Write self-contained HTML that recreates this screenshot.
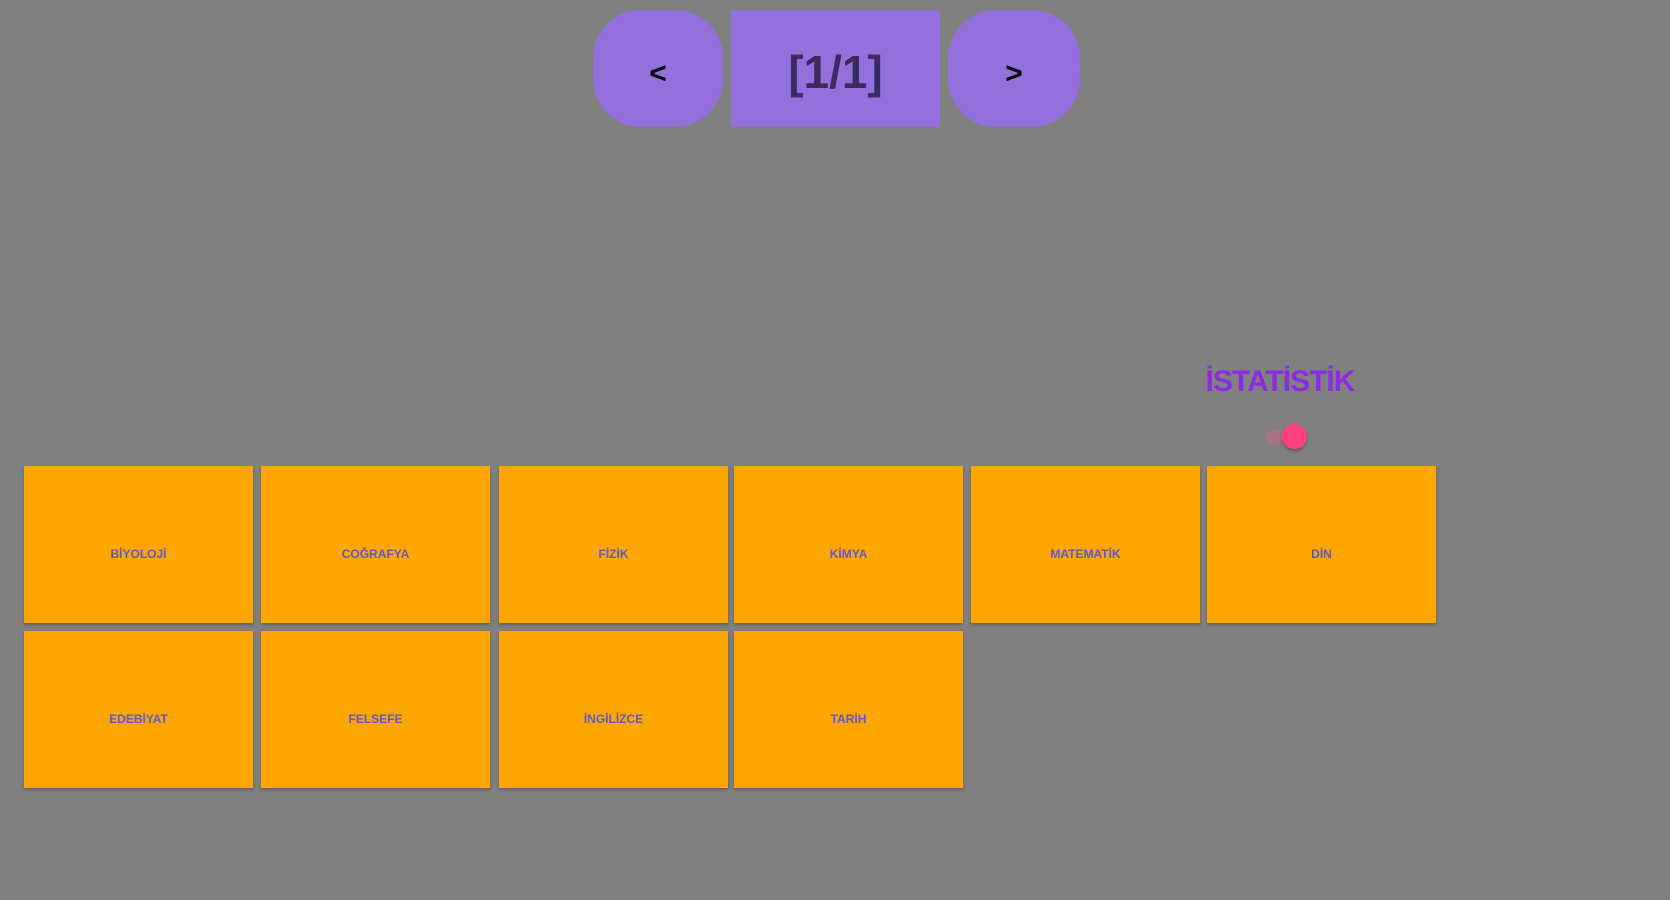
<!DOCTYPE html>
<html><head><style>
body{margin:0;width:1670px;height:900px;background:#808080;position:relative;overflow:hidden;font-family:"Liberation Sans",sans-serif}
.b{position:absolute;background:#9370db;display:flex;align-items:center;justify-content:center;font-weight:bold}
.t{position:absolute;width:229px;height:157px;background:#ffa500;display:flex;align-items:center;justify-content:center;color:#5a5ad0;font-size:12px;font-weight:bold;box-shadow:0 2px 3px rgba(0,0,0,.25)}
.t span{position:relative;top:9px}
</style></head><body>
<div class="b" style="left:593px;top:10px;width:130px;height:117px;border-radius:48px;font-size:30px;color:#000;font-weight:900"><span style="position:relative;top:5px">&lt;</span></div>
<div class="b" style="left:731px;top:10px;width:209px;height:117px;font-size:46px;font-weight:600;color:#3a2a60"><span style="position:relative;top:3px">[1/1]</span></div>
<div class="b" style="left:948px;top:10px;width:132px;height:117px;border-radius:48px;font-size:30px;color:#000;font-weight:900"><span style="position:relative;top:5px">&gt;</span></div>
<div style="position:absolute;left:1180px;top:365px;width:200px;text-align:center;color:#8a2be2;font-size:30px;font-weight:bold;letter-spacing:-1px">İSTATİSTİK</div>
<div style="position:absolute;left:1266px;top:430px;width:32px;height:14px;border-radius:7px;background:#c46a8a;opacity:.6"></div>
<div style="position:absolute;left:1282px;top:424px;width:25px;height:25px;border-radius:50%;background:#ff4081;box-shadow:0 2px 3px rgba(0,0,0,.3)"></div>
<div class="t" style="left:24px;top:466px"><span>BİYOLOJİ</span></div>
<div class="t" style="left:261px;top:466px"><span>COĞRAFYA</span></div>
<div class="t" style="left:499px;top:466px"><span>FİZİK</span></div>
<div class="t" style="left:734px;top:466px"><span>KİMYA</span></div>
<div class="t" style="left:971px;top:466px"><span>MATEMATİK</span></div>
<div class="t" style="left:1207px;top:466px"><span>DİN</span></div>
<div class="t" style="left:24px;top:631px"><span>EDEBİYAT</span></div>
<div class="t" style="left:261px;top:631px"><span>FELSEFE</span></div>
<div class="t" style="left:499px;top:631px"><span>İNGİLİZCE</span></div>
<div class="t" style="left:734px;top:631px"><span>TARİH</span></div>
</body></html>
